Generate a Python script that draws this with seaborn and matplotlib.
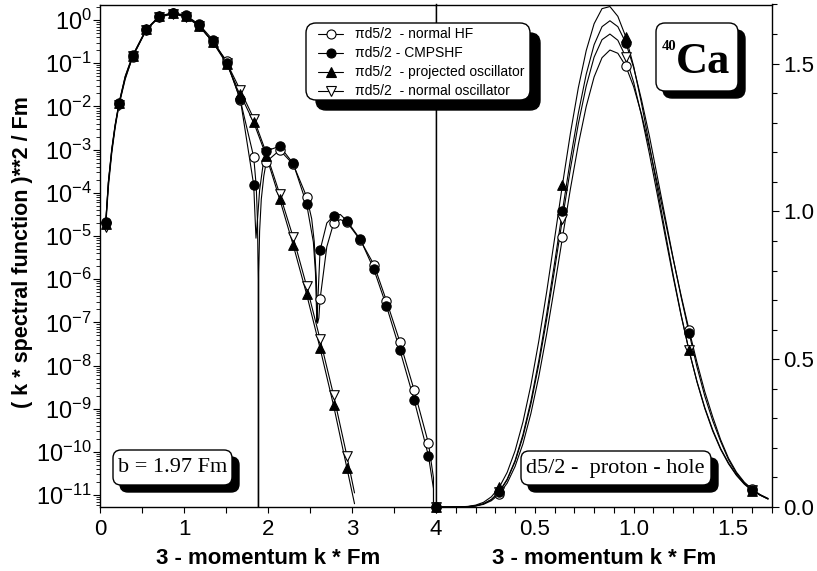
import numpy as np
import matplotlib
matplotlib.use("Agg")
import matplotlib.pyplot as plt
import seaborn as sns
from matplotlib.patches import FancyBboxPatch
from matplotlib.lines import Line2D
from matplotlib.transforms import IdentityTransform
from matplotlib.ticker import (FixedLocator, MultipleLocator, LogLocator,
                               NullFormatter, FuncFormatter)

# ---------------- data: left panel (log10 of the plotted quantity) ----------------
NODE = -99.0  # exact zero of the wave function (drawn down to the axis)

K_MARK_L = [0.068, 0.226, 0.39, 0.55, 0.706, 0.865, 1.02, 1.18, 1.34, 1.51, 1.67, 1.83,
            1.98, 2.14, 2.30, 2.46, 2.62, 2.78, 2.94, 3.10, 3.26, 3.41, 3.57, 3.74, 3.91]

HF_LOG = [-4.69, -1.95, -0.85, -0.23, 0.08, 0.16, 0.10, -0.12, -0.50, -0.95, -1.85, -3.17,
          -3.28, -3.01, -3.34, -4.09, -6.46, -4.71, -4.68, -5.10, -5.66, -6.50, -7.45, -8.57, -9.80]
CMP_LOG = [-4.67, -1.92, -0.81, -0.215, 0.093, 0.17, 0.116, -0.10, -0.45, -0.99, -1.83, -3.82,
           -3.03, -2.92, -3.32, -4.26, -5.33, -4.54, -4.65, -5.08, -5.77, -6.62, -7.64, -8.80, -10.09]
PROJ_LOG = [-4.72, -1.93, -0.82, -0.21, 0.09, 0.16, 0.10, -0.13, -0.50, -1.02, -1.72, -2.37,
            -3.15, -4.15, -5.21, -6.35, -7.60, -8.92, -10.38]
NORM_LOG = [-4.79, -1.97, -0.84, -0.23, 0.07, 0.14, 0.08, -0.14, -0.50, -0.99, -1.62, -2.28,
            -3.08, -4.03, -5.03, -6.16, -7.39, -8.68, -10.10]

# additional points (no marker there)
HF_EXTRA = [(0.10, -3.76), (0.14, -3.01), (0.18, -2.45), (0.30, -1.34),
            (1.86, -3.85), (1.875, -4.65), (1.883, -6.0), (1.885, NODE), (1.89, -5.84),
            (1.90, -4.89), (1.92, -4.15), (1.95, -3.61),
            (2.52, -4.60), (2.55, -5.12), (2.575, -5.97), (2.59, -7.02), (2.605, -6.90),
            (2.70, -5.25), (2.86, -4.62), (3.97, -10.60), (4.0, NODE)]
CMP_EXTRA = [(0.10, -3.73), (0.14, -2.98), (0.18, -2.42), (0.30, -1.30),
             (1.845, -4.52), (1.857, -5.05), (1.88, -4.49), (1.90, -3.94), (1.94, -3.37),
             (2.54, -5.14), (2.565, -5.85), (2.578, -6.76), (2.583, -7.00), (2.595, -6.42),
             (2.70, -4.70), (2.86, -4.50), (3.97, -10.85), (4.0, NODE)]
PROJ_EXTRA = [(0.10, -3.77), (0.14, -3.02), (0.18, -2.45), (0.30, -1.31), (3.03, -11.20)]
NORM_EXTRA = [(0.10, -3.86), (0.14, -3.08), (0.18, -2.50), (0.30, -1.37), (3.03, -10.95)]

# ---------------- data: right panel (linear) ----------------
K_R = [0.00, 0.04, 0.08, 0.12, 0.16, 0.20, 0.24, 0.28, 0.32, 0.36, 0.40, 0.44, 0.48, 0.52,
       0.56, 0.60, 0.64, 0.68, 0.72, 0.76, 0.80, 0.84, 0.88, 0.92, 0.96, 1.00, 1.04, 1.08,
       1.12, 1.16, 1.20, 1.24, 1.28, 1.32, 1.36, 1.40, 1.44, 1.48, 1.52, 1.56, 1.60, 1.64, 1.68]
HF_R = [0, 0, 0, 0.0002, 0.0009, 0.0032, 0.0089, 0.0212, 0.0437, 0.0808, 0.137, 0.214, 0.316,
        0.441, 0.586, 0.746, 0.912, 1.076, 1.226, 1.355, 1.455, 1.520, 1.546,
        1.535, 1.492, 1.422, 1.328, 1.216, 1.094, 0.967, 0.839, 0.716, 0.600, 0.490, 0.390,
        0.305, 0.228, 0.165, 0.118, 0.084, 0.060, 0.042, 0.029]
CMP_R = [0, 0, 0, 0.0002, 0.0011, 0.0039, 0.0109, 0.0254, 0.0517, 0.0943, 0.157, 0.245, 0.358,
         0.495, 0.653, 0.826, 1.003, 1.176, 1.332, 1.464, 1.564, 1.625, 1.645,
         1.625, 1.571, 1.487, 1.377, 1.254, 1.117, 0.979, 0.842, 0.711, 0.590, 0.475, 0.375,
         0.292, 0.222, 0.160, 0.114, 0.081, 0.058, 0.041, 0.028]
PROJ_R = [0, 0, 0, 0.0005, 0.002, 0.0062, 0.0157, 0.0344, 0.0666, 0.117, 0.190, 0.288, 0.412,
          0.561, 0.728, 0.908, 1.091, 1.264, 1.418, 1.544, 1.635, 1.686, 1.693,
          1.660, 1.591, 1.491, 1.365, 1.224, 1.077, 0.929, 0.785, 0.651, 0.530, 0.424, 0.333,
          0.257, 0.195, 0.146, 0.107, 0.077, 0.055, 0.040, 0.027]
NORM_R = [0, 0, 0, 0.0002, 0.0011, 0.0038, 0.0106, 0.0247, 0.0502, 0.0917, 0.153, 0.238, 0.348,
          0.482, 0.635, 0.803, 0.976, 1.144, 1.296, 1.424, 1.522, 1.581, 1.600,
          1.579, 1.523, 1.437, 1.323, 1.194, 1.056, 0.915, 0.778, 0.648, 0.530, 0.426, 0.336,
          0.261, 0.198, 0.149, 0.109, 0.079, 0.0565, 0.040, 0.027]
MARK_EVERY_R = 8   # markers at k = 0, 0.32, 0.64, 0.96, 1.28, 1.60

LABELS = ["\u03c0d5/2  - normal HF", "\u03c0d5/2 - CMPSHF",
          "\u03c0d5/2  - projected oscillator", "\u03c0d5/2  - normal oscillator"]
XTICKS_L = [0, 1, 2, 3, 4]
XTICKS_R = [0, 0.5, 1.0, 1.5]
YTICKS_R = [0.0, 0.5, 1.0, 1.5]

# ---------------- style ----------------
sns.set_theme(style="ticks")
plt.rcParams["font.family"] = ["Liberation Sans", "DejaVu Sans"]
plt.rcParams["axes.linewidth"] = 1.0
plt.rcParams["axes.edgecolor"] = "black"
for k in ("text.color", "axes.labelcolor", "xtick.color", "ytick.color"):
    plt.rcParams[k] = "black"

W, H = 817, 571
fig = plt.figure(figsize=(W / 100, H / 100), dpi=100)
fig.patch.set_facecolor("white")
AX_TOP, AX_BOT = 4.5, 507.0
axL = fig.add_axes([100 / W, (H - AX_BOT) / H, 336 / W, (AX_BOT - AX_TOP) / H])
axR = fig.add_axes([436 / W, (H - AX_BOT) / H, 336 / W, (AX_BOT - AX_TOP) / H])

axL.set_yscale("log")
axL.set_xlim(0, 4)
axL.set_ylim(5.3e-12, 2.3)
axR.set_xlim(0, 1.7)
axR.set_ylim(0, 1.7)

# styles: (marker, facecolor, size)
STY = {"hf": ("o", "white", 45), "cmp": ("o", "black", 45),
       "proj": ("^", "black", 48), "norm": ("v", "white", 48)}
ORDER = ["norm", "hf", "proj", "cmp"]   # marker drawing order (last on top)

left = {"hf": (K_MARK_L, HF_LOG, HF_EXTRA), "cmp": (K_MARK_L, CMP_LOG, CMP_EXTRA),
        "proj": (K_MARK_L[:len(PROJ_LOG)], PROJ_LOG, PROJ_EXTRA),
        "norm": (K_MARK_L[:len(NORM_LOG)], NORM_LOG, NORM_EXTRA)}
right = {"hf": HF_R, "cmp": CMP_R, "proj": PROJ_R, "norm": NORM_R}

# lines
for key in ORDER:
    km, lm, extra = left[key]
    pts = sorted(list(zip(km, lm)) + list(extra))
    kx = [p[0] for p in pts]
    yv = [10.0 ** p[1] for p in pts]
    sns.lineplot(x=kx, y=yv, ax=axL, color="black", lw=0.8, estimator=None,
                 sort=False, legend=False, zorder=2)
    sns.lineplot(x=K_R, y=right[key], ax=axR, color="black", lw=0.8, estimator=None,
                 sort=False, legend=False, zorder=2)

# markers
for key in ORDER:
    mk, fc, s = STY[key]
    km, lm, _ = left[key]
    sns.scatterplot(x=km, y=[10.0 ** v for v in lm], ax=axL, marker=mk, s=s, color=fc,
                    edgecolor="black", linewidth=0.8, zorder=4, legend=False, clip_on=False)
    sns.scatterplot(x=K_R[::MARK_EVERY_R], y=right[key][::MARK_EVERY_R], ax=axR, marker=mk,
                    s=s, color=fc, edgecolor="black", linewidth=0.8, zorder=4,
                    legend=False, clip_on=False)

for ax in (axL, axR):
    ax.set_xlabel("")
    ax.set_ylabel("")
    ax.grid(False)
    for sp in ax.spines.values():
        sp.set_visible(True)
        sp.set_linewidth(1.0)
        sp.set_color("black")

# left axis ticks
axL.xaxis.set_major_locator(FixedLocator(XTICKS_L))
axL.xaxis.set_minor_locator(MultipleLocator(0.5))
axL.xaxis.set_major_formatter(FuncFormatter(lambda v, p: f"{v:.0f}"))
axL.yaxis.set_major_locator(FixedLocator([10.0 ** e for e in range(-11, 1)]))
axL.yaxis.set_minor_locator(LogLocator(base=10, subs=np.arange(2, 10), numticks=200))
axL.yaxis.set_minor_formatter(NullFormatter())
axL.yaxis.set_major_formatter(FuncFormatter(
    lambda v, p: r"$\mathregular{10^{%d}}$" % int(round(np.log10(v)))))
axL.tick_params(axis="y", which="major", direction="out", length=5, width=0.8,
                labelsize=17, pad=1, left=True, right=False)
axL.tick_params(axis="y", which="minor", direction="out", length=3, width=0.6,
                left=True, right=False)
axL.tick_params(axis="x", which="both", direction="out", length=4.5, width=0.8,
                labelsize=16, pad=4, bottom=True, top=False)

# right axis ticks
axR.yaxis.tick_right()
axR.xaxis.set_major_locator(FixedLocator(XTICKS_R))
axR.xaxis.set_minor_locator(MultipleLocator(0.1))
axR.xaxis.set_major_formatter(FuncFormatter(lambda v, p: "" if abs(v) < 1e-9 else f"{v:.1f}"))
axR.yaxis.set_major_locator(FixedLocator(YTICKS_R))
axR.yaxis.set_minor_locator(MultipleLocator(0.1))
axR.yaxis.set_major_formatter(FuncFormatter(lambda v, p: f"{v:.1f}"))
axR.tick_params(axis="y", which="major", direction="out", length=5, width=0.8,
                labelsize=16, pad=3, right=True, left=False)
axR.tick_params(axis="y", which="minor", direction="out", length=3.5, width=0.8,
                right=True, left=False)
axR.tick_params(axis="x", which="both", direction="out", length=4.5, width=0.8,
                labelsize=16, pad=4, bottom=True, top=False)

# ---------------- annotations in pixel coordinates ----------------
ID = IdentityTransform()


def shadow_box(x0, y0_img, x1, y1_img, off, rad):
    yb = H - y1_img
    h = y1_img - y0_img
    w = x1 - x0
    fig.add_artist(FancyBboxPatch((x0 + off, yb - off), w, h,
                                  boxstyle=f"round,pad=0,rounding_size={rad}",
                                  transform=ID, fc="black", ec="black", lw=1.0, zorder=1.0))
    fig.add_artist(FancyBboxPatch((x0, yb), w, h,
                                  boxstyle=f"round,pad=0,rounding_size={rad}",
                                  transform=ID, fc="white", ec="black", lw=1.0, zorder=1.1))


# legend
shadow_box(306, 23, 530, 100, 10, 10)
rows = [34, 53.3, 72.3, 90.7]
for key, lab, yi in zip(["hf", "cmp", "proj", "norm"], LABELS, rows):
    mk, fc, s = STY[key]
    yd = H - yi
    fig.add_artist(Line2D([318, 343], [yd, yd], transform=ID, color="black", lw=0.8, zorder=2))
    fig.add_artist(Line2D([330.5], [yd], transform=ID, ls="none", marker=mk,
                          ms=6.5 if mk == "o" else 6.8, mfc=fc, mec="black", mew=0.8, zorder=2.1))
    fig.text(355, yd, lab, transform=ID, fontsize=10, ha="left", va="center", zorder=3)

# b = 1.97 Fm
shadow_box(113, 450, 232, 485, 7, 8)
fig.text(172.5, H - 467.5, "b = 1.97 Fm", transform=ID, fontsize=16,
         family=["Liberation Serif", "DejaVu Serif"], ha="center", va="center", zorder=3)

# d5/2 - proton - hole
shadow_box(521, 451, 711, 485, 7, 8)
fig.text(615, H - 468, "d5/2 -  proton - hole", transform=ID, fontsize=16,
         family=["Liberation Serif", "DejaVu Serif"], ha="center", va="center", zorder=3)

# 40Ca
shadow_box(656, 23, 738, 91, 7, 9)
fig.text(676, H - 73, "Ca", transform=ID, fontsize=32, fontweight="bold",
         family=["Liberation Serif", "DejaVu Serif"], ha="left", va="baseline", zorder=3)
fig.text(676, H - 50, "40", transform=ID, fontsize=10.5, fontweight="bold",
         family=["Liberation Serif", "DejaVu Serif"], ha="right", va="baseline", zorder=3)

# axis labels
fig.text(23, H - 252, "( k * spectral function )**2 / Fm", transform=ID, rotation=90,
         fontsize=15.5, fontweight="bold", ha="center", va="center")
fig.text(268, H - 558, "3 - momentum k * Fm", transform=ID, fontsize=16,
         fontweight="bold", ha="center", va="center")
fig.text(604, H - 558, "3 - momentum k * Fm", transform=ID, fontsize=16,
         fontweight="bold", ha="center", va="center")

fig.savefig("out.png", dpi=100, facecolor="white")
